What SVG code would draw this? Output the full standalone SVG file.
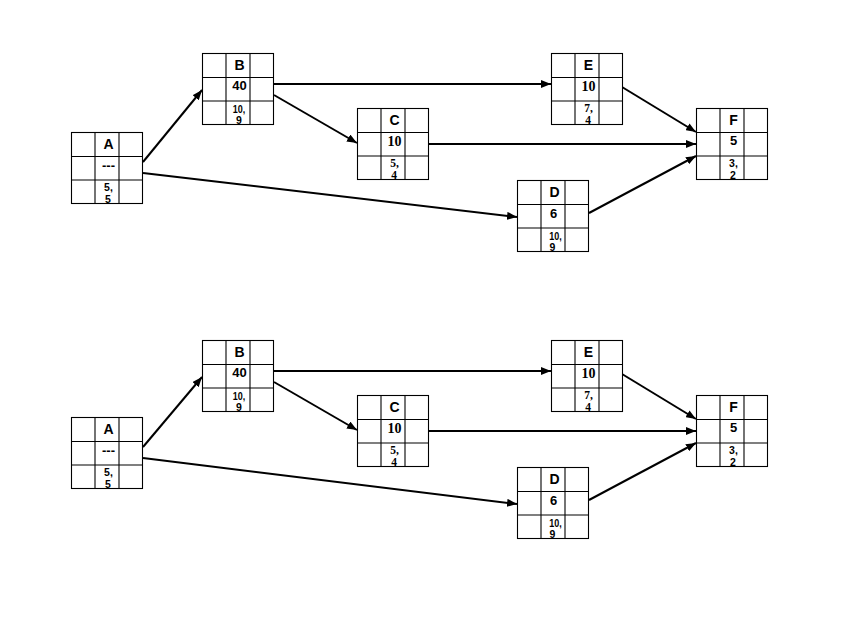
<svg xmlns="http://www.w3.org/2000/svg" width="862" height="638" viewBox="0 0 862 638">
<style>
.box{fill:#fff;stroke:#000;stroke-width:1.1}
.g{stroke:#000;stroke-width:1.1}
.lt{font-family:"Liberation Sans",Arial,sans-serif;font-weight:bold;font-size:14px;text-anchor:middle;fill:#000}
.ms{font-family:"Liberation Sans",Arial,sans-serif;font-weight:bold;font-size:13px;text-anchor:middle;fill:#000}
.mr{font-family:"Liberation Serif","Times New Roman",serif;font-weight:bold;font-size:14px;text-anchor:middle;fill:#000}
.ss{font-family:"Liberation Sans",Arial,sans-serif;font-weight:bold;font-size:10.5px;text-anchor:middle;fill:#000}
.sr{font-family:"Liberation Serif","Times New Roman",serif;font-weight:bold;font-size:11.5px;text-anchor:middle;fill:#000}
.e{stroke:#000;stroke-width:2;fill:none;marker-end:url(#ah)}
</style>
<defs>
<marker id="ah" markerUnits="userSpaceOnUse" markerWidth="10" markerHeight="8" refX="10" refY="4" orient="auto">
<path d="M0,0 L10,4 L0,8 z" fill="#000"/>
</marker>
<g id="grid">
<rect class="box" x="0" y="0" width="71" height="71"/>
<line class="g" x1="23.5" y1="0" x2="23.5" y2="71"/>
<line class="g" x1="47.5" y1="0" x2="47.5" y2="71"/>
<line class="g" x1="0" y1="24" x2="71" y2="24"/>
<line class="g" x1="0" y1="47.5" x2="71" y2="47.5"/>
</g>
</defs>
<rect width="862" height="638" fill="#fff"/>

<g id="edges-top">
<path class="e" d="M143,162 L202,90"/>
<path class="e" d="M143,173 L517,217"/>
<path class="e" d="M274,84 L551,84"/>
<path class="e" d="M274,95 L357,143"/>
<path class="e" d="M429,144 L696,144"/>
<path class="e" d="M622,87 L696,132"/>
<path class="e" d="M589,213 L696,156"/>
</g>

<g id="A1" transform="translate(71.5,132.5)">
<use href="#grid"/>
<text class="lt" x="37" y="16">A</text>
<text class="ms" x="37" y="37">---</text>
<text class="ss" x="37" y="58.5">5,</text>
<text class="ss" x="36.5" y="70">5</text>
</g>
<g id="B1" transform="translate(202.5,53.5)">
<use href="#grid"/>
<text class="lt" x="37" y="16">B</text>
<text class="ms" x="37" y="36.5">40</text>
<text class="ss" x="36.5" y="59" textLength="12.5" lengthAdjust="spacingAndGlyphs">10,</text>
<text class="ss" x="36.5" y="70">9</text>
</g>
<g id="C1" transform="translate(357.5,108.5)">
<use href="#grid"/>
<text class="lt" x="37" y="16">C</text>
<text class="mr" x="37" y="37">10</text>
<text class="sr" x="37" y="58.5">5,</text>
<text class="sr" x="36.5" y="70">4</text>
</g>
<g id="D1" transform="translate(517.5,180.5)">
<use href="#grid"/>
<text class="lt" x="37" y="16">D</text>
<text class="ms" x="36" y="37">6</text>
<text class="ss" x="38" y="59" textLength="12.5" lengthAdjust="spacingAndGlyphs">10,</text>
<text class="ss" x="35" y="70">9</text>
</g>
<g id="E1" transform="translate(551.5,53.5)">
<use href="#grid"/>
<text class="lt" x="37" y="16">E</text>
<text class="mr" x="37" y="37">10</text>
<text class="sr" x="37" y="58.5">7,</text>
<text class="sr" x="36.5" y="70">4</text>
</g>
<g id="F1" transform="translate(696.5,108.5)">
<use href="#grid"/>
<text class="lt" x="37" y="16">F</text>
<text class="ms" x="37" y="36.5">5</text>
<text class="ss" x="37" y="58.5">3,</text>
<text class="ss" x="36.5" y="70">2</text>
</g>

<g id="edges-bottom">
<path class="e" d="M143,447 L202,377"/>
<path class="e" d="M143,458 L517,504"/>
<path class="e" d="M274,371 L551,371"/>
<path class="e" d="M274,382 L357,430"/>
<path class="e" d="M429,431 L696,431"/>
<path class="e" d="M622,374 L696,419"/>
<path class="e" d="M589,500 L696,443"/>
</g>

<g id="A2" transform="translate(71.5,417.5)">
<use href="#grid"/>
<text class="lt" x="37" y="16">A</text>
<text class="ms" x="37" y="37">---</text>
<text class="ss" x="37" y="58.5">5,</text>
<text class="ss" x="36.5" y="70">5</text>
</g>
<g id="B2" transform="translate(202.5,340.5)">
<use href="#grid"/>
<text class="lt" x="37" y="16">B</text>
<text class="ms" x="37" y="36.5">40</text>
<text class="ss" x="36.5" y="59" textLength="12.5" lengthAdjust="spacingAndGlyphs">10,</text>
<text class="ss" x="36.5" y="70">9</text>
</g>
<g id="C2" transform="translate(357.5,395.5)">
<use href="#grid"/>
<text class="lt" x="37" y="16">C</text>
<text class="mr" x="37" y="37">10</text>
<text class="sr" x="37" y="58.5">5,</text>
<text class="sr" x="36.5" y="70">4</text>
</g>
<g id="D2" transform="translate(517.5,467.5)">
<use href="#grid"/>
<text class="lt" x="37" y="16">D</text>
<text class="ms" x="36" y="37">6</text>
<text class="ss" x="38" y="59" textLength="12.5" lengthAdjust="spacingAndGlyphs">10,</text>
<text class="ss" x="35" y="70">9</text>
</g>
<g id="E2" transform="translate(551.5,340.5)">
<use href="#grid"/>
<text class="lt" x="37" y="16">E</text>
<text class="mr" x="37" y="37">10</text>
<text class="sr" x="37" y="58.5">7,</text>
<text class="sr" x="36.5" y="70">4</text>
</g>
<g id="F2" transform="translate(696.5,395.5)">
<use href="#grid"/>
<text class="lt" x="37" y="16">F</text>
<text class="ms" x="37" y="36.5">5</text>
<text class="ss" x="37" y="58.5">3,</text>
<text class="ss" x="36.5" y="70">2</text>
</g>
</svg>
